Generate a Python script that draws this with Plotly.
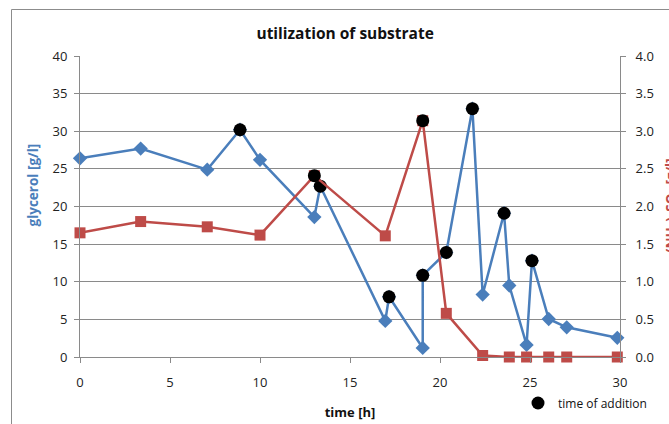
import plotly.graph_objects as go

# Glycerol concentration over the fermentation [g/l]
time_glycerol = [0, 3.37, 7.07, 8.89, 10.0, 13.02, 13.35, 16.96, 17.17, 19.04, 19.04,
                 20.35, 21.8, 22.37, 23.56, 23.85, 24.81, 25.11, 26.04, 27.04, 29.85]
glycerol = [26.4, 27.7, 24.9, 30.2, 26.2, 18.6, 22.7, 4.8, 8.0, 1.2, 10.85,
            13.9, 33.0, 8.3, 19.1, 9.5, 1.6, 12.8, 5.05, 3.95, 2.55]

# Ammonium sulfate concentration [g/l]
time_sulfate = [0, 3.37, 7.07, 10.0, 13.02, 16.96, 19.04, 20.35, 22.37, 23.85, 24.81, 26.04, 27.04, 29.85]
sulfate = [1.65, 1.80, 1.73, 1.62, 2.41, 1.61, 3.14, 0.58, 0.02, 0, 0, 0, 0, 0]

# Substrate feeding events
add_time_glycerol = [8.89, 13.35, 17.17, 19.04, 20.35, 21.8, 23.56, 25.11]
add_glycerol = [30.2, 22.7, 8.0, 10.85, 13.9, 33.0, 19.1, 12.8]
add_time_sulfate = [13.02, 19.04]
add_sulfate = [2.41, 3.14]

x_ticks = [0, 5, 10, 15, 20, 25, 30]
y_ticks = [0, 5, 10, 15, 20, 25, 30, 35, 40]
y2_ticks = [0, 0.5, 1.0, 1.5, 2.0, 2.5, 3.0, 3.5, 4.0]

BLUE = "#4A7EBB"
RED = "#BE4B48"
GRID = "#8A8A8A"
FONT = "Open Sans"

fig = go.Figure()
fig.add_trace(go.Scatter(
    x=time_glycerol, y=glycerol, mode="lines+markers", name="glycerol",
    line=dict(color=BLUE, width=2.5),
    marker=dict(symbol="diamond", size=11, color=BLUE),
    showlegend=False, cliponaxis=False,
))
fig.add_trace(go.Scatter(
    x=time_sulfate, y=sulfate, mode="lines+markers", name="(NH4)2SO4",
    yaxis="y2",
    line=dict(color=RED, width=2.5),
    marker=dict(symbol="square", size=11, color=RED),
    showlegend=False, cliponaxis=False,
))
fig.add_trace(go.Scatter(
    x=add_time_glycerol, y=add_glycerol, mode="markers", name="time of addition",
    marker=dict(symbol="circle", size=13, color="black"),
    legendgroup="add", showlegend=True, cliponaxis=False,
))
fig.add_trace(go.Scatter(
    x=add_time_sulfate, y=add_sulfate, mode="markers", name="time of addition",
    yaxis="y2",
    marker=dict(symbol="circle", size=13, color="black"),
    legendgroup="add", showlegend=False, cliponaxis=False,
))

axis_common = dict(
    showline=True, linecolor=GRID, linewidth=1,
    ticks="outside", ticklen=5, tickcolor=GRID,
    tickfont=dict(family=FONT, size=13, color="#222222"),
    zeroline=False, automargin=False,
)

fig.update_layout(
    width=669, height=424,
    margin=dict(l=80, r=49, t=56, b=67, autoexpand=False),
    paper_bgcolor="white", plot_bgcolor="white",
    font=dict(family=FONT),
    title=dict(
        text="<b>utilization of substrate</b>",
        font=dict(family=FONT, size=15.5, color="#111111"),
        x=0.491, xref="paper", xanchor="center",
        y=1 - 34 / 424, yref="container", yanchor="middle",
    ),
    xaxis=dict(
        range=[0, 30], tickvals=x_ticks, showgrid=False, ticklabelstandoff=8,
        title=dict(text="<b>time [h]</b>", font=dict(family=FONT, size=13, color="#111111"), standoff=18),
        **axis_common,
    ),
    yaxis=dict(
        range=[0, 40], tickvals=y_ticks, showgrid=True, gridcolor=GRID, gridwidth=1,
        ticklabelstandoff=4,
        **axis_common,
    ),
    yaxis2=dict(
        range=[0, 4], tickvals=y2_ticks, tickformat=".1f", overlaying="y", side="right",
        showgrid=False, ticklabelstandoff=7,
        **axis_common,
    ),
    legend=dict(
        x=(518 - 80) / 540, y=(357 - 403) / 301, xanchor="left", yanchor="middle",
        xref="paper", yref="paper",
        font=dict(family=FONT, size=12, color="#111111"),
        bgcolor="rgba(0,0,0,0)", itemwidth=30,
    ),
    annotations=[
        dict(text="<b>glycerol [g/l]</b>", xref="paper", yref="paper",
             x=(32.5 - 80) / 540, y=(357 - 185) / 301, xanchor="center", yanchor="middle",
             textangle=-90, showarrow=False,
             font=dict(family=FONT, size=13.5, color=BLUE)),
        dict(text="<b>(NH<sub>4</sub>)<sub>2</sub>SO<sub>4</sub> [g/l]</b>", xref="paper", yref="paper",
             x=(672 - 80) / 540, y=(357 - 206) / 301, xanchor="center", yanchor="middle",
             textangle=-90, showarrow=False,
             font=dict(family=FONT, size=13.5, color=RED)),
    ],
    shapes=[
        dict(type="rect", xref="paper", yref="paper",
             x0=(11.5 - 80) / 540, x1=(700 - 80) / 540,
             y0=(357 - 440) / 301, y1=(357 - 9.5) / 301,
             line=dict(color="#8C8C8C", width=1), fillcolor="rgba(0,0,0,0)", layer="below"),
    ],
)

fig.write_html("out.html")
